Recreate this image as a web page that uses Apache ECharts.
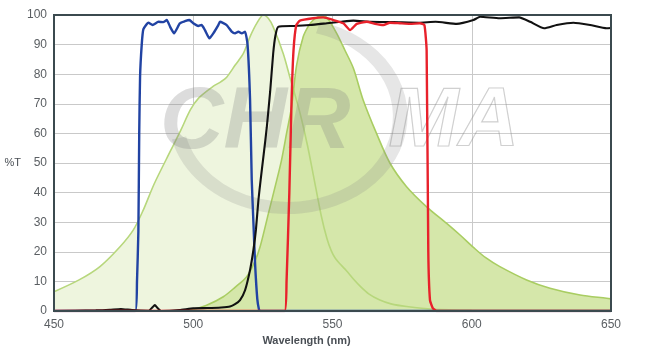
<!DOCTYPE html>
<html>
<head>
<meta charset="utf-8">
<script src="https://cdn.jsdelivr.net/npm/echarts@6/dist/echarts.min.js"></script>
<style>
html,body{margin:0;padding:0;background:#fff;}
#chart{width:652px;height:354px;}
</style>
</head>
<body>
<div id="chart"></div>
<script>
// excitation spectrum (light green)
var excitation = [[450,6.5],[459,10.5],[466.5,15],[473.7,21.7],[478.5,27.4],[482,34],[486,43],[492,54.4],[495.5,61],[499,68],[502,72],[507,75.8],[510,77.5],[512,79],[515,83],[518,87],[520.4,92.7],[523,97.5],[525.2,100],[527,98.8],[528.7,96],[532.3,87],[534.7,79],[538.3,67],[541,56],[543.1,46],[546,32],[548,24.5],[549.5,20.5],[551,17.8],[553,15.6],[555,13.6],[557.5,10.8],[560,8.3],[563,5.8],[567,3.7],[571,2.4],[576.6,1.5],[586,0.6],[600,0.3],[650,0.2]];
// emission spectrum (dark green)
var emission = [[498,0],[500,0.5],[505,2],[510.8,4.8],[515,8],[519.2,11.6],[522,16.5],[524,21.7],[527,33],[530,44.3],[531.7,51],[533.5,60],[535.3,69],[537.1,83],[539.5,92.7],[541.5,96.5],[543.1,98.3],[545,99.5],[546.7,99.7],[548.5,98.5],[551.5,93.8],[554.5,88],[557.5,82],[561,71.3],[565.8,60],[570.6,50],[576.6,42],[583.8,35.2],[591,29.6],[596,25.5],[600.6,21.5],[605,18],[610.1,15],[619.7,10.5],[628.1,7.7],[638.9,5.4],[648.4,4.3],[650,4.1]];
// excitation filter (blue)
var exciter = [[450,0],[479.2,0],[479.8,10],[480.3,27],[480.6,60],[480.9,79],[481.5,90],[482.1,95.2],[483.9,97.4],[485.4,96.6],[487.5,97.7],[489.2,97.6],[490.5,98.3],[491.7,96],[493.1,93.8],[495.2,97.2],[497,97.9],[498.6,98.3],[500,97.2],[501.8,96.3],[503,96.6],[504.2,94.9],[505.8,92.1],[507.2,93.8],[509,96.6],[509.6,97.7],[512,96.6],[513.8,94.4],[515,93.8],[516.2,94.4],[517.4,93.8],[518.6,94.4],[519.5,90],[520.4,71.3],[521,44.3],[521.6,30],[522.2,16],[523,4],[523.6,0.5],[524,0],[650,0]];
// dichroic (black)
var dichroic = [[450,0],[465,0.2],[470,0.4],[474,0.7],[478,0.3],[484,0.1],[485.3,1.2],[486.2,2],[487.2,1],[488.5,0],[495,0.3],[500,0.9],[505,1],[510,1.2],[513.2,1.5],[515,2.3],[516.8,3.7],[518.6,7],[520.4,13.9],[521.6,20.6],[522.5,27.4],[523.4,37.5],[524.2,44.3],[525.3,53],[526.4,62],[527.6,74],[528.7,87],[529.5,93],[530.5,96],[536,96.3],[542,96.6],[548,97.2],[553,97.7],[557.5,98.1],[563.5,97.7],[572,97.6],[581,97.4],[587,97.7],[594.6,97],[600.6,98.3],[603,99.4],[610,98.9],[617,99.2],[621,97.7],[626,95.5],[630.5,96.6],[636.5,97.4],[642.5,96.6],[648.4,95.5],[650,95.6]];
// emission filter (red)
var emitter = [[450,0],[532.8,0],[533.5,10],[534.5,40],[535.3,71],[536,88],[537,96.6],[538.3,98.1],[543,98.9],[546.7,99.2],[550.3,98.3],[553.9,97.2],[556.3,94.9],[558.7,97],[562.3,97.7],[565.3,97],[568.3,96.6],[570.6,97.4],[574.2,97.2],[577.8,97],[581.4,97.2],[583,96.6],[583.8,88],[584.4,20],[585,3.7],[586,1],[587.4,0],[650,0]];

var chart = echarts.init(document.getElementById('chart'));

var option = {
	animation: false,
	grid: {left: 54, right: 41, top: 15, bottom: 43, show: true, borderColor: '#3b4a4f', borderWidth: 2, backgroundColor: 'transparent', z: 10},
	xAxis: {
		type: 'value', min: 450, max: 650, interval: 50,
		name: 'Wavelength (nm)', nameLocation: 'middle', nameGap: 23,
		nameTextStyle: {color: '#4a4f55', fontSize: 11, fontWeight: 'bold', fontFamily: 'Liberation Sans', padding: [0, 52, 0, 0]},
		axisLine: {show: false}, axisTick: {show: false},
		axisLabel: {color: '#5a5e62', fontSize: 12, fontFamily: 'Liberation Sans', margin: 8},
		splitLine: {show: true, lineStyle: {color: '#c9c9c9', width: 1}}
	},
	yAxis: {
		type: 'value', min: 0, max: 100, interval: 10,
		name: '%T', nameLocation: 'middle', nameGap: 30, nameRotate: 0,
		nameTextStyle: {color: '#4a4f55', fontSize: 11, fontFamily: 'Liberation Sans'},
		axisLine: {show: false}, axisTick: {show: false},
		axisLabel: {color: '#5a5e62', fontSize: 12, fontFamily: 'Liberation Sans', margin: 7},
		splitLine: {show: true, lineStyle: {color: '#c9c9c9', width: 1}}
	},
	// CHROMA watermark
	graphic: [
		{type: 'text', left: 160, top: 80, z: 5, silent: true,
			style: {text: 'CHR', font: 'italic bold 88px Liberation Sans', fill: 'rgba(130,130,130,0.28)'}},
		{type: 'text', left: 388, top: 80, z: 5, silent: true,
			style: {text: 'MA', font: 'italic bold 84px Liberation Sans', fill: 'rgba(255,255,255,0.12)', stroke: 'rgba(130,130,130,0.4)', lineWidth: 1.2}},
		{type: 'arc', z: 5, silent: true, x: 288, y: 116, scaleX: 1.22,
			shape: {cx: 0, cy: 0, r: 92, startAngle: -1.3, endAngle: 2.9, clockwise: true},
			style: {stroke: 'rgba(130,130,130,0.2)', lineWidth: 12, fill: null}}
	],
	series: [
		{type: 'line', data: excitation, smooth: 0.3, symbol: 'none', z: 1,
			lineStyle: {width: 0}, areaStyle: {color: '#eef5de', opacity: 1}},
		{type: 'line', data: emission, smooth: 0.3, symbol: 'none', z: 2,
			lineStyle: {width: 0}, areaStyle: {color: '#d5e7aa', opacity: 1}},
		{type: 'line', data: excitation, smooth: 0.3, symbol: 'none', z: 3,
			lineStyle: {color: '#b7d77c', width: 1.6}},
		{type: 'line', data: emission, smooth: 0.3, symbol: 'none', z: 3,
			lineStyle: {color: '#a9cd62', width: 1.6}},
		{type: 'line', data: exciter, smooth: 0.15, symbol: 'none', z: 6,
			lineStyle: {color: '#2143a3', width: 2.4}},
		{type: 'line', data: dichroic, smooth: 0.15, symbol: 'none', z: 7,
			lineStyle: {color: '#111111', width: 2.1}},
		{type: 'line', data: emitter, smooth: 0.15, symbol: 'none', z: 8,
			lineStyle: {color: '#e8212b', width: 2.4}}
	]
};

chart.setOption(option);
</script>
</body>
</html>
